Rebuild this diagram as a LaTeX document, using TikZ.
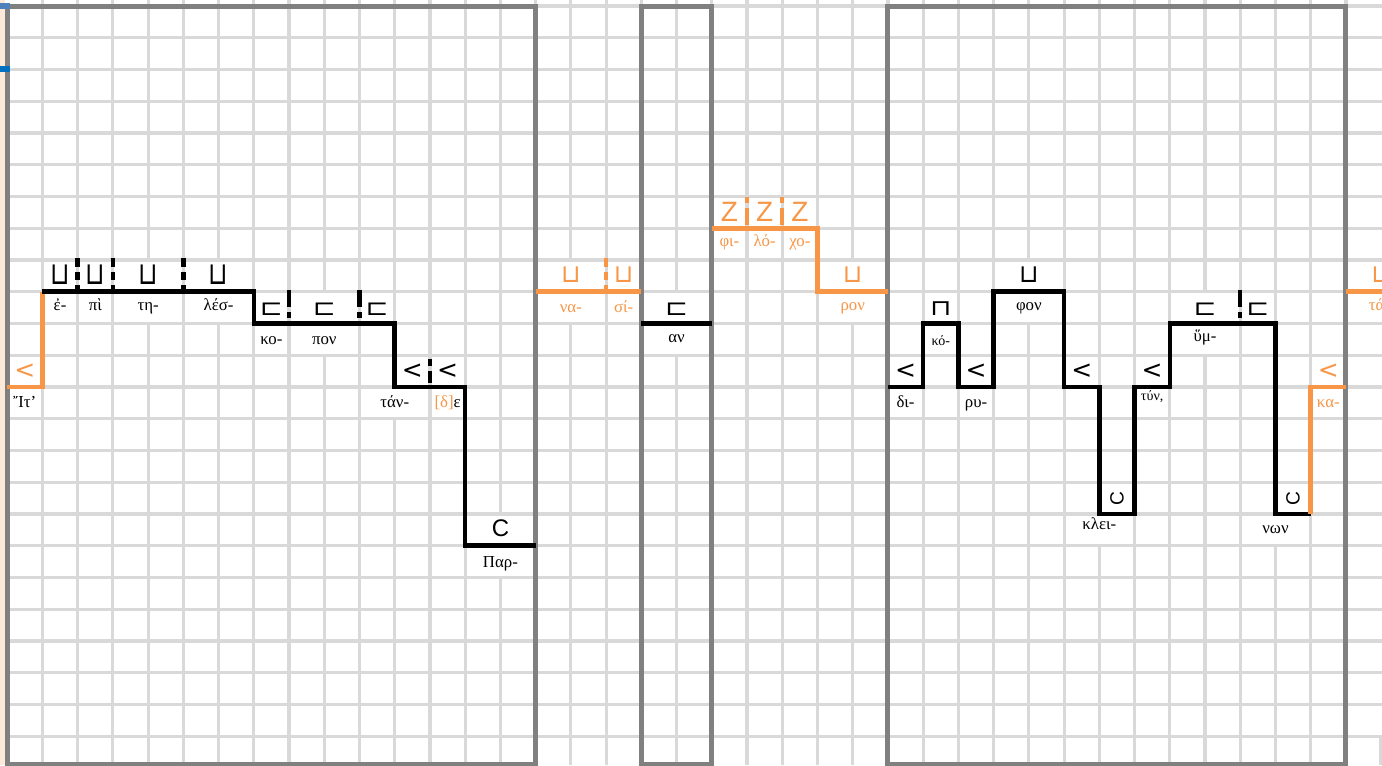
\documentclass[tikz,border=0pt]{standalone}
\usepackage{fontspec}
\setmainfont{Liberation Serif}
\newfontfamily\symfont{DejaVu Sans}
\newfontfamily\lsans{Liberation Sans}
\definecolor{orng}{HTML}{F79646}
\definecolor{gridc}{HTML}{D9D9D9}
\definecolor{framec}{HTML}{808080}
\definecolor{beige}{HTML}{FCE9DA}
\definecolor{bluea}{HTML}{4F81BD}
\definecolor{blueb}{HTML}{0070C0}
\tikzset{
  gridline/.style={draw=gridc, line width=1.6pt},
  frameline/.style={draw=framec, line width=2.5pt, line join=miter},
  blackline/.style={draw=black, line width=2.3pt, line join=miter},
  orangeline/.style={draw=orng, line width=2.3pt, line join=miter},
  sepblack/.style={draw=black, line width=2.2pt},
  seporange/.style={draw=orng, line width=2.2pt},
  patch/.style={fill=white, draw=none},
  lab/.style={inner sep=0pt, anchor=base, font=\fontsize{8.4}{9}\selectfont},
  smalllab/.style={inner sep=0pt, anchor=base, font=\fontsize{7}{8}\selectfont},
  ltsym/.style={inner sep=0pt, font=\symfont\fontsize{12.5}{13}\selectfont},
  cupsym/.style={inner sep=0pt, font=\symfont\fontsize{12.5}{13}\selectfont},
  sqsym/.style={inner sep=0pt, xscale=1.25, font=\symfont\fontsize{11}{12}\selectfont},
  ceesym/.style={inner sep=0pt, font=\lsans\fontsize{12}{13}\selectfont},
  zedsym/.style={inner sep=0pt, font=\lsans\fontsize{14}{15}\selectfont},
}
\begin{document}
\begin{tikzpicture}[x=17.615pt,y=-15.875pt]
\useasboundingbox (-0.2044,-0.189) rectangle (39.0236,23.906);
\clip (-0.2044,-0.189) rectangle (39.0236,23.906);
\fill[white] (-0.2044,-0.189) rectangle (39.0236,23.906);
\fill[beige] (-0.2044,-0.189) rectangle (-0.07,23.906);
% grid
\foreach \k in {1,...,38} \draw[gridline] (\k,-0.189) -- (\k,23.906);
\foreach \r in {0,...,23} \draw[gridline] (0,\r) -- (39.0236,\r);
\draw[gridline] (38.98,23) -- (38.98,23.906);
% merged cells hide interior grid lines
\foreach \a/\b/\r in {3/5/8,3/5/9,5/7/8,5/7/9,8/10/9,8/10/10,10/12/12,13/15/16,13/15/17,
  15/17/8,15/17/9,18/20/9,18/20/10,23/25/8,23/25/9,28/30/8,28/30/9,30/32/16,
  33/35/9,33/35/10,35/37/16,38/40/8,38/40/9}
  \fill[patch] (\a+0.045,\r+0.05) rectangle (\b-0.045,\r+1-0.05);
% frames
\draw[frameline] (0,0) rectangle (15,23.874);
\draw[frameline] (18,0) rectangle (20,23.874);
\draw[frameline] (25,0) rectangle (38,23.874);
% blue marks
\fill[bluea] (-0.2044,-0.0945) rectangle (0.08,0.0945);
\fill[blueb] (-0.2044,1.89) rectangle (0.08,2.08);
% contour lines
\coordinate (o1a) at (0,12);
\coordinate (o1b) at (1,12);
\coordinate (b1a) at (1,9);
\draw[orangeline] (o1a) -- (o1b) -- (b1a);
\draw[blackline] (b1a) -- (7,9) -- (7,10) -- (11,10) -- (11,12) -- (13,12) -- (13,17) -- (15,17);
\draw[orangeline] (15,9) -- (18,9);
\draw[blackline] (18,10) -- (20,10);
\draw[orangeline] (20,7) -- (23,7) -- (23,9) -- (25,9);
\draw[blackline] (25,12) -- (26,12) -- (26,10) -- (27,10) -- (27,12) -- (28,12) -- (28,9) -- (30,9)
  -- (30,12) -- (31,12) -- (31,16) -- (32,16) -- (32,12) -- (33,12) -- (33,10) -- (36,10) -- (36,16) -- (37,16);
\draw[orangeline] (37,16) -- (37,12) -- (38,12);
\draw[orangeline] (38,9) -- (39.1,9);
% separators
\foreach \x in {2,3,5} {
  \draw[sepblack] (\x,7.94) -- (\x,8.22);
  \draw[sepblack] (\x,8.38) -- (\x,8.63);
  \draw[sepblack] (\x,8.79) -- (\x,9.0);
}
\foreach \x in {8,10,35} {
  \draw[sepblack] (\x,8.94) -- (\x,9.48);
  \draw[sepblack] (\x,9.64) -- (\x,9.83);
}
\draw[sepblack] (12,11.12) -- (12,11.34);
\draw[sepblack] (12,11.5) -- (12,11.86);
\draw[seporange] (17,7.94) -- (17,8.22);
\draw[seporange] (17,8.38) -- (17,8.63);
\draw[seporange] (17,8.79) -- (17,9.0);
\foreach \x in {21,22} {
  \draw[seporange] (\x,6.02) -- (\x,6.2);
  \draw[seporange] (\x,6.36) -- (\x,6.9);
}
% section 1 symbols and labels
\node[ltsym, text=orng] (s1) at (0.5,11.51) {<};
\node[lab] (l1) at (0.5,12.63) {Ἴτ’};
\node[cupsym, yscale=1.25] (s2) at (1.5,8.47) {⊔};
\node[cupsym, yscale=1.25] (s3) at (2.5,8.47) {⊔};
\node[cupsym, yscale=1.25] (s4) at (4,8.47) {⊔};
\node[cupsym, yscale=1.25] (s5) at (6,8.47) {⊔};
\node[lab] (l2) at (1.5,9.6) {ἐ-};
\node[lab] (l3) at (2.5,9.6) {πὶ};
\node[lab] (l4) at (4,9.6) {τη-};
\node[lab] (l5) at (6,9.6) {λέσ-};
\node[sqsym] (s6) at (7.5,9.54) {⊏};
\node[sqsym] (s7) at (9,9.54) {⊏};
\node[sqsym] (s8) at (10.5,9.54) {⊏};
\node[lab] (l6) at (7.5,10.65) {κο-};
\node[lab] (l7) at (9,10.65) {πον};
\node[ltsym] (s9) at (11.5,11.51) {<};
\node[ltsym] (s10) at (12.5,11.51) {<};
\node[lab] (l8) at (11,12.63) {τάν-};
\node[lab] (l9) at (12.5,12.63) {\textcolor{orng}{[δ]}ε};
\node[ceesym] (s11) at (14,16.44) {C};
\node[lab] (l10) at (14,17.68) {Παρ-};
% section 2
\node[cupsym, text=orng] (s12) at (16,8.47) {⊔};
\node[cupsym, text=orng] (s13) at (17.5,8.47) {⊔};
\node[lab, text=orng] (l11) at (16,9.64) {να-};
\node[lab, text=orng] (l12) at (17.5,9.64) {σί-};
% section 3
\node[sqsym] (s14) at (19,9.54) {⊏};
\node[lab] (l13) at (19,10.61) {αν};
% section 4
\node[zedsym, text=orng] (s15) at (20.5,6.49) {Z};
\node[zedsym, text=orng] (s16) at (21.5,6.49) {Z};
\node[zedsym, text=orng] (s17) at (22.5,6.49) {Z};
\node[lab, text=orng] (l14) at (20.5,7.59) {φι-};
\node[lab, text=orng] (l15) at (21.5,7.59) {λό-};
\node[lab, text=orng] (l16) at (22.5,7.59) {χο-};
\node[cupsym, text=orng] (s18) at (24,8.47) {⊔};
\node[lab, text=orng] (l17) at (24,9.6) {ρον};
% section 5
\node[ltsym] (s19) at (25.5,11.51) {<};
\node[lab] (l18) at (25.5,12.66) {δι-};
\node[sqsym] (s20) at (26.5,9.54) {⊓};
\node[smalllab] (l19) at (26.5,10.68) {κό-};
\node[ltsym] (s21) at (27.5,11.51) {<};
\node[lab] (l20) at (27.5,12.63) {ρυ-};
\node[cupsym] (s22) at (29,8.47) {⊔};
\node[lab] (l21) at (29,9.58) {φον};
\node[ltsym] (s23) at (30.5,11.51) {<};
\node[ceesym, rotate=90, scale=0.8] (s24) at (31.5,15.5) {C};
\node[lab] (l22) at (31,16.5) {κλει-};
\node[ltsym] (s25) at (32.5,11.51) {<};
\node[smalllab] (l23) at (32.5,12.44) {τύν,};
\node[sqsym] (s26) at (34,9.54) {⊏};
\node[sqsym] (s27) at (35.5,9.54) {⊏};
\node[lab] (l24) at (34,10.58) {ὕμ-};
\node[ceesym, rotate=90, scale=0.8] (s28) at (36.5,15.5) {C};
\node[lab] (l25) at (36,16.6) {νων};
\node[ltsym, text=orng] (s29) at (37.5,11.51) {<};
\node[lab, text=orng] (l26) at (37.5,12.66) {κα-};
% section 6
\node[cupsym, text=orng] (s30) at (39,8.47) {⊔};
\node[lab, text=orng] (l27) at (38.87,9.6) {τά};
\end{tikzpicture}
\end{document}
